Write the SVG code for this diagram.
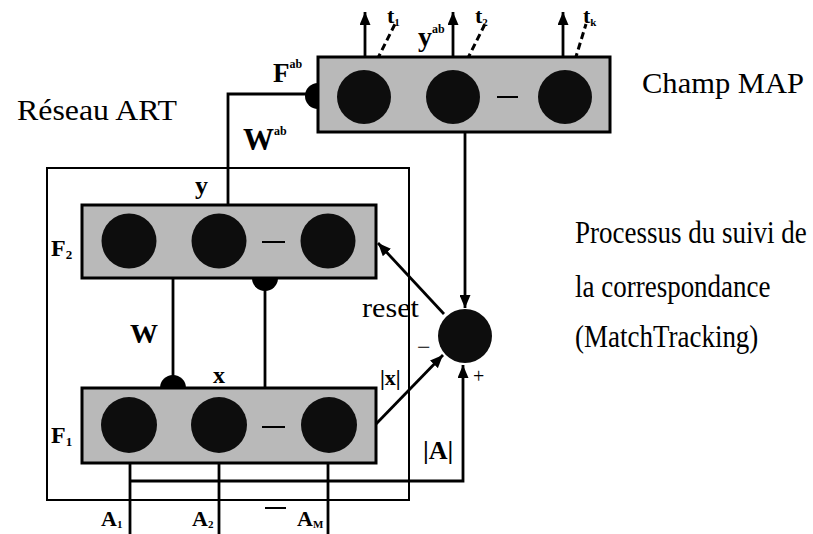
<svg xmlns="http://www.w3.org/2000/svg" width="813" height="534" viewBox="0 0 813 534">
<style>
.field{fill:#b9b9b9;stroke:#000;stroke-width:3}
.cell{fill:#0d0d0d}
.ln{stroke:#000;stroke-width:2.8;fill:none}
.thin{stroke:#000;stroke-width:2;fill:none}
.dash{stroke:#000;stroke-width:3;fill:none;stroke-dasharray:7 4}
.gap{stroke:#000;stroke-width:2}
.knob{fill:#000}
.t{font-family:"Liberation Serif","Times New Roman",serif;fill:#000}
.b{font-weight:bold}
</style>
<defs>
<marker id="ah" markerUnits="userSpaceOnUse" markerWidth="13" markerHeight="11" refX="13" refY="5.5" orient="auto">
<path d="M0,0 L13,5.5 L0,11 z" fill="#000"/>
</marker>
</defs>
<rect width="813" height="534" fill="#fff"/>

<g id="art-box">
<rect x="47" y="168" width="362" height="332" class="thin"/>
</g>

<g id="connectors">
<polyline points="228,205 228,94 306,94" class="ln"/>
<path d="M318,83 A13,13 0 0 0 318,109 z" class="knob"/>
<line x1="173" y1="278" x2="173" y2="377" class="ln"/>
<path d="M160,388 A13,13 0 0 1 186,388 z" class="knob"/>
<line x1="265" y1="388" x2="265" y2="289" class="ln"/>
<path d="M252,278 A13,13 0 0 0 278,278 z" class="knob"/>
<line x1="365" y1="72" x2="365" y2="12" class="ln" marker-end="url(#ah)"/>
<line x1="453" y1="72" x2="453" y2="12" class="ln" marker-end="url(#ah)"/>
<line x1="563" y1="72" x2="563" y2="12" class="ln" marker-end="url(#ah)"/>
<line x1="377" y1="60" x2="395" y2="24" class="dash"/>
<line x1="467" y1="60" x2="485" y2="24" class="dash"/>
<line x1="575" y1="60" x2="586" y2="24" class="dash"/>
<line x1="465" y1="132" x2="465" y2="308" class="ln" marker-end="url(#ah)"/>
<line x1="444" y1="314" x2="378" y2="243" class="ln" marker-end="url(#ah)"/>
<line x1="376" y1="424" x2="443" y2="355" class="ln" marker-end="url(#ah)"/>
<line x1="130" y1="450" x2="130" y2="534" class="ln"/>
<line x1="219" y1="450" x2="219" y2="534" class="ln"/>
<line x1="328" y1="450" x2="328" y2="534" class="ln"/>
<polyline points="130,481 463,481 463,365" class="ln" marker-end="url(#ah)"/>
</g>

<g id="map-field">
<rect x="318" y="57" width="292" height="75" class="field"/>
<circle cx="364" cy="97" r="27" class="cell"/>
<circle cx="453" cy="97" r="27" class="cell"/>
<circle cx="565" cy="97" r="27" class="cell"/>
<line x1="497" y1="97" x2="518" y2="97" class="gap"/>
</g>

<g id="f2">
<rect x="82" y="205" width="294" height="73" class="field"/>
<circle cx="129" cy="241" r="27.5" class="cell"/>
<circle cx="219" cy="241" r="27.5" class="cell"/>
<circle cx="328" cy="241" r="27.5" class="cell"/>
<line x1="262" y1="242" x2="285" y2="242" class="gap"/>
</g>

<g id="f1">
<rect x="82" y="388" width="294" height="75" class="field"/>
<circle cx="129" cy="425" r="28" class="cell"/>
<circle cx="219" cy="425" r="28" class="cell"/>
<circle cx="329" cy="425" r="28" class="cell"/>
<line x1="262" y1="427" x2="285" y2="427" class="gap"/>
</g>

<g id="orienting">
<circle cx="465" cy="336" r="27" class="cell"/>
</g>

<g id="inputs-dash">
<line x1="265" y1="508" x2="286" y2="508" class="gap"/>
</g>

<g id="labels">
<text x="17" y="120" class="t" font-size="29" textLength="160" lengthAdjust="spacingAndGlyphs">Réseau ART</text>
<text x="642" y="93" class="t" font-size="29" textLength="162" lengthAdjust="spacingAndGlyphs">Champ MAP</text>
<text transform="translate(575,243) scale(1,1.15)" class="t" font-size="27">Processus du suivi de</text>
<text transform="translate(575,297) scale(1,1.15)" class="t" font-size="27">la correspondance</text>
<text transform="translate(575,347) scale(1,1.15)" class="t" font-size="27">(MatchTracking)</text>

<text x="273" y="82" class="t b" font-size="27">F<tspan font-size="12" dy="-14">ab</tspan></text>
<text x="243" y="150" class="t b" font-size="31">W<tspan font-size="12" dy="-15">ab</tspan></text>
<text x="418" y="46" class="t b" font-size="28">y<tspan font-size="12" dy="-13">ab</tspan></text>
<text x="387" y="23" class="t b" font-size="22">t<tspan font-size="11" dy="3">1</tspan></text>
<text x="475" y="23" class="t b" font-size="22">t<tspan font-size="11" dy="3">2</tspan></text>
<text x="583" y="23" class="t b" font-size="22">t<tspan font-size="11" dy="3">k</tspan></text>

<text x="195" y="194" class="t b" font-size="26">y</text>
<text x="51" y="256" class="t b" font-size="24">F<tspan font-size="13" dy="3">2</tspan></text>
<text x="130" y="343" class="t b" font-size="28">W</text>
<text x="213" y="383" class="t b" font-size="24">x</text>
<text x="51" y="443" class="t b" font-size="24">F<tspan font-size="13" dy="3">1</tspan></text>

<text x="362" y="317" class="t" font-size="28" textLength="57" lengthAdjust="spacingAndGlyphs">reset</text>
<text x="380" y="385" class="t b" font-size="22">|x|</text>
<text x="423" y="459" class="t b" font-size="26">|A|</text>
<text x="417" y="355" class="t" font-size="24">−</text>
<text x="473" y="383" class="t" font-size="20">+</text>

<text x="101" y="526" class="t b" font-size="22">A<tspan font-size="11" dy="2">1</tspan></text>
<text x="192" y="526" class="t b" font-size="22">A<tspan font-size="11" dy="2">2</tspan></text>
<text x="297" y="526" class="t b" font-size="22">A<tspan font-size="11" dy="2">M</tspan></text>
</g>
</svg>
